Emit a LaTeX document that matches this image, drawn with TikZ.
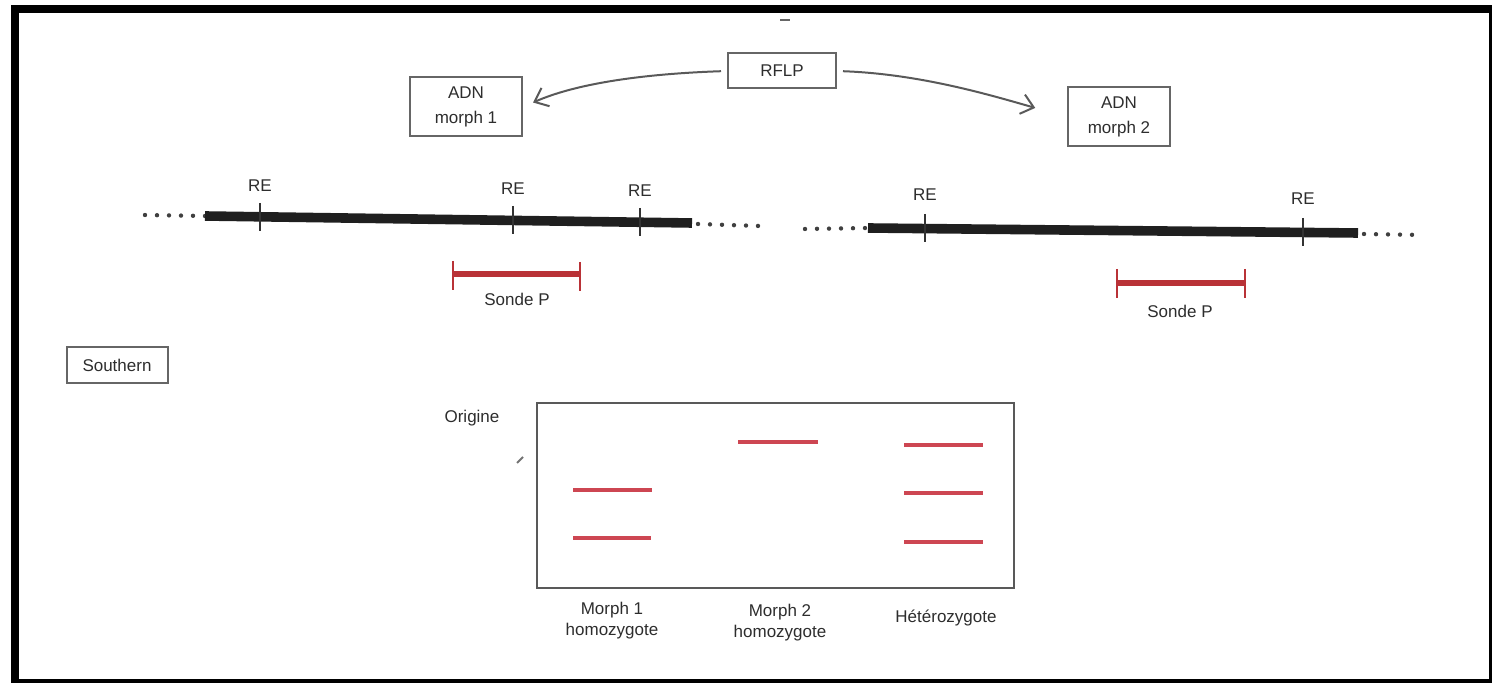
\documentclass[tikz,border=0pt]{standalone}
\usepackage{fontspec}
\setmainfont{Liberation Sans}
\usetikzlibrary{arrows.meta}
\definecolor{probe}{RGB}{185,50,55}
\definecolor{bandc}{RGB}{205,70,82}
\definecolor{ink}{RGB}{45,45,45}
\begin{document}
\begin{tikzpicture}[x=0.5pt,y=-0.5pt,
  lbl/.style={font=\fontsize{8.5}{10.5}\selectfont, text=ink, inner sep=0pt, align=center},
  box/.style={draw=black!60, line width=1pt, font=\fontsize{8.5}{12.5}\selectfont, text=ink, align=center, inner sep=0pt},
  dna/.style={line width=4.8pt, black!88},
  dots/.style={line width=2.2pt, black!75, dash pattern=on 0pt off 6pt, line cap=round},
  retick/.style={line width=0.9pt, black!80},
  probebar/.style={line width=3pt, probe},
  probecap/.style={line width=0.8pt, probe},
  band/.style={line width=2pt, bandc},
  curvearrow/.style={line width=1pt, black!65, -{Straight Barb[length=6pt,width=10pt]}}
]
\useasboundingbox (0,0) rectangle (1492,683);
% frame
\fill[black] (11,5) rectangle (1492,13);
\fill[black] (11,5) rectangle (19,683);
\fill[black] (11,679) rectangle (1492,683);
\fill[black] (1489,5) rectangle (1492,683);
\draw[black!60, line width=0.8pt] (780,20) -- (790,20);

% boxes
\node[box, minimum width=54pt, minimum height=17.5pt] (rflp) at (782,71) {RFLP};
\node[box, minimum width=56pt, minimum height=29.5pt] (adn1) at (466,107) {ADN\\morph 1};
\node[box, minimum width=51pt, minimum height=29.5pt] (adn2) at (1119,117) {ADN\\morph 2};
\node[box, minimum width=50.5pt, minimum height=18pt] (south) at (117,365) {Southern};

% arrows
\draw[curvearrow, shorten <=3pt, shorten >=5.5pt] (rflp.west) .. controls (640,74) and (575,84) .. (adn1.east);
\draw[curvearrow, shorten <=3pt, shorten >=16.5pt] (rflp.east) .. controls (920,74) and (990,95) .. (adn2.west);

% left DNA
\coordinate (l0) at (145,215);
\coordinate (l1) at (205,216);
\coordinate (l2) at (692,223);
\coordinate (l3) at (760,226);
\draw[dots] (l0) -- (l1);
\draw[dna] (l1) -- (l2);
\draw[dots] (l2) ++(6,1) -- (l3);
\foreach \x/\y/\n in {260/217/a,513/220/b,640/222/c}{
  \draw[retick] (\x,\y-14) -- (\x,\y+14);
  \node[lbl] (re\n) at (\x,\y-31) {RE};
}
% left probe
\coordinate (p1) at (453,274);
\coordinate (p2) at (580,274);
\draw[probebar] (p1) -- (p2);
\draw[probecap] (453,261) -- (453,290);
\draw[probecap] (580,262) -- (580,291);
\node[lbl] (sondeA) at (517,299) {Sonde P};

% right DNA
\coordinate (r0) at (805,229);
\coordinate (r1) at (868,228);
\coordinate (r2) at (1358,233);
\coordinate (r3) at (1422,235);
\draw[dots] (r0) -- (r1);
\draw[dna] (r1) -- (r2);
\draw[dots] (r2) ++(6,1) -- (r3);
\foreach \x/\y/\n in {925/228/d,1303/232/e}{
  \draw[retick] (\x,\y-14) -- (\x,\y+14);
  \node[lbl] (re\n) at (\x,\y-33) {RE};
}
% right probe
\draw[probebar] (1117,283) -- (1245,283);
\draw[probecap] (1117,269) -- (1117,298);
\draw[probecap] (1245,269) -- (1245,298);
\node[lbl] (sondeB) at (1180,311) {Sonde P};

% gel
\node[draw=black!65, line width=1pt, minimum width=238.5pt, minimum height=92.5pt, inner sep=0pt] (gel) at (775.5,495.5) {};
\node[lbl] (orig) at (472,418) {Origine};
\draw[black!55, line width=1pt] (517,463) -- (523,457);
% bands
\draw[band] (573,490) -- (652,490);
\draw[band] (573,538) -- (651,538);
\draw[band] (738,442) -- (818,442);
\draw[band] (904,445) -- (983,445);
\draw[band] (904,493) -- (983,493);
\draw[band] (904,542) -- (983,542);
% lane labels
\node[lbl] (lane1) at (612,621) {Morph 1\\homozygote};
\node[lbl] (lane2) at (780,623) {Morph 2\\homozygote};
\node[lbl] (lane3) at (946,618) {Hétérozygote};
\end{tikzpicture}
\end{document}
